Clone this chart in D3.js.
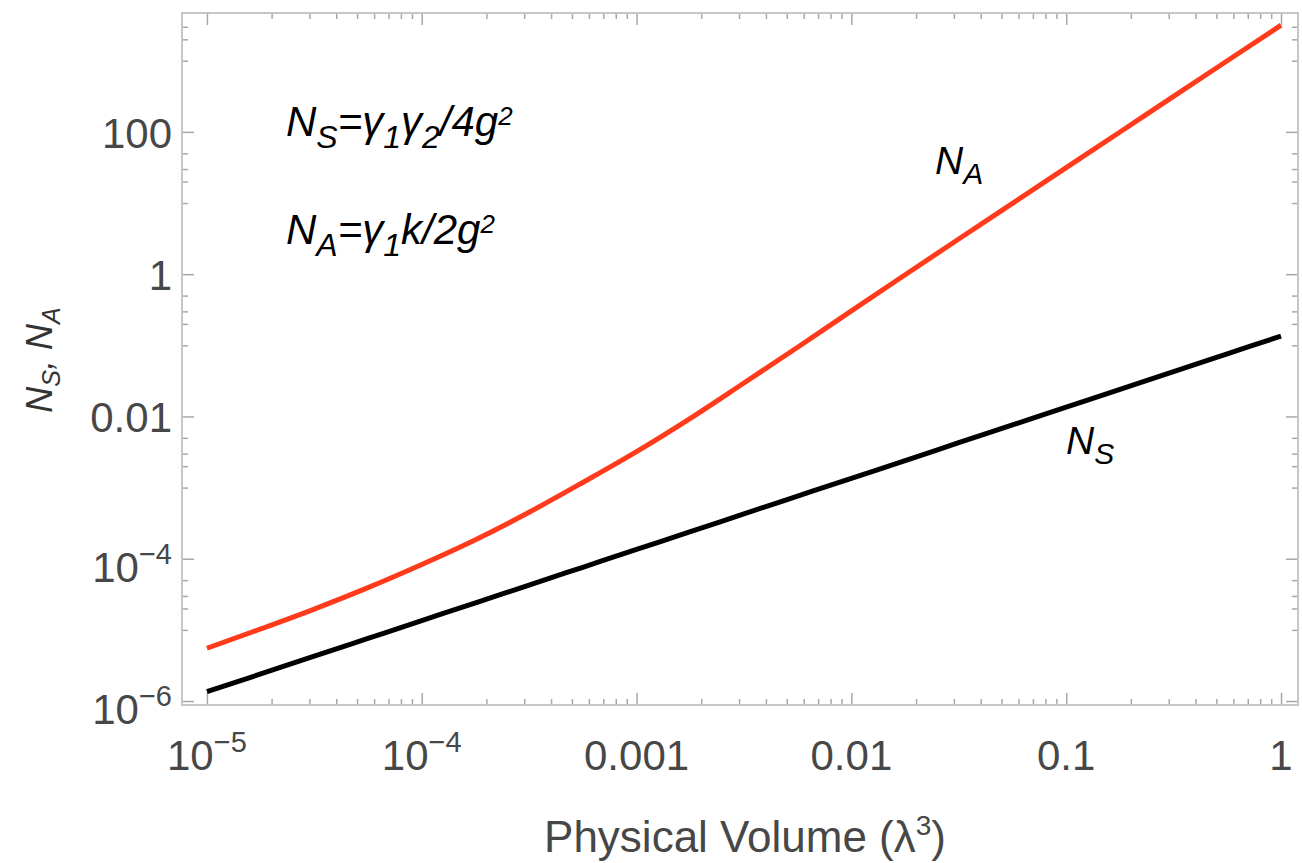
<!DOCTYPE html>
<meta charset="utf-8">
<style>
body { margin: 0; background: #fff; }
text { font-family: "Liberation Sans", Arial, sans-serif; }
.frame { fill: none; stroke: #c6c6c6; stroke-width: 2; }
.tick line { stroke: #a8a8a8; stroke-width: 1.5; }
.domain { display: none; }
.lbl { fill: #474747; font-size: 42px; }
.math { fill: #000; font-style: italic; font-size: 42px; }
</style>
<body>
<script src="https://d3js.org/d3.v7.min.js"></script>
<script>

var w = 1302, h = 863;
var margin = {top: 13, right: 4, bottom: 158, left: 182};

// physical volume (lambda^3), quarter decades
var volume = [1e-5, 1.78e-5, 3.16e-5, 5.62e-5, 1e-4, 1.78e-4, 3.16e-4, 5.62e-4,
              1e-3, 1.78e-3, 3.16e-3, 5.62e-3, 1e-2, 1.78e-2, 3.16e-2, 5.62e-2,
              0.1, 0.178, 0.316, 0.562, 1];
var nS = [1.35e-6, 2.4e-6, 4.27e-6, 7.59e-6, 1.35e-5, 2.4e-5, 4.27e-5, 7.59e-5,
          1.35e-4, 2.4e-4, 4.27e-4, 7.59e-4, 1.35e-3, 2.4e-3, 4.27e-3, 7.59e-3,
          0.0135, 0.024, 0.0427, 0.0759, 0.135];
var nA = [5.52e-6, 1.03e-5, 1.96e-5, 3.92e-5, 8.3e-5, 1.85e-4, 4.5e-4, 1.18e-3,
          3.2e-3, 9.4e-3, 2.95e-2, 0.094, 0.305, 0.98, 3.12, 9.9,
          31.4, 99.5, 316, 999, 3160];

var xMajor = [1e-5, 1e-4, 1e-3, 1e-2, 0.1, 1];
var xLabels = [["10", "\u22125"], ["10", "\u22124"], ["0.001"], ["0.01"], ["0.1"], ["1"]];
var yMajor = [1e-6, 1e-4, 1e-2, 1, 100];
var yLabels = [["10", "\u22126"], ["10", "\u22124"], ["0.01"], ["1"], ["100"]];
var yMinor = [5e-5, 3e-5, 2e-5, 1e-5, 5e-3, 3e-3, 2e-3, 1e-3, 0.5, 0.3, 0.2, 0.1,
              50, 30, 20, 10, 3000, 2000, 1000];

var xMinor = [];
xMajor.slice(0, -1).forEach(function(d) {
    for (var m = 2; m < 10; m++) xMinor.push(d * m);
});

var width = w - margin.left - margin.right,
    height = h - margin.top - margin.bottom;

var x = d3.scaleLog()
    .domain([Math.pow(10, -5.116), Math.pow(10, 0.079)])
    .range([margin.left, margin.left + width]);
var y = d3.scaleLog()
    .domain([Math.pow(10, -6.056), Math.pow(10, 3.671)])
    .range([margin.top + height, margin.top]);

var svg = d3.select("body").append("svg")
    .attr("width", w)
    .attr("height", h);

// ticks on all four sides, pointing inward
function ticks(axisFn, scale, vals, size, tx, ty) {
    svg.append("g")
        .attr("transform", "translate(" + tx + "," + ty + ")")
        .call(axisFn(scale).tickValues(vals).tickSize(-size).tickFormat(""));
}
var bottom = margin.top + height, right = margin.left + width;
ticks(d3.axisBottom, x, xMajor, 12, 0, bottom);
ticks(d3.axisBottom, x, xMinor, 6, 0, bottom);
ticks(d3.axisTop, x, xMajor, 12, 0, margin.top);
ticks(d3.axisTop, x, xMinor, 6, 0, margin.top);
ticks(d3.axisLeft, y, yMajor, 12, margin.left, 0);
ticks(d3.axisLeft, y, yMinor, 6, margin.left, 0);
ticks(d3.axisRight, y, yMajor, 12, right, 0);
ticks(d3.axisRight, y, yMinor, 6, right, 0);

svg.append("rect")
    .attr("class", "frame")
    .attr("x", margin.left)
    .attr("y", margin.top)
    .attr("width", width)
    .attr("height", height);

// text with sub/superscripts: parts = [[text, "sub"|"sup"|undefined], ...]
function rich(text, parts, subDy, supDy, subSize, supSize) {
    var cur = 0;
    parts.forEach(function(p) {
        var target = p[1] === "sub" ? subDy : (p[1] === "sup" ? -supDy : 0);
        var ts = text.append("tspan").text(p[0]).attr("dy", target - cur);
        if (p[1] === "sub") ts.attr("font-size", subSize);
        if (p[1] === "sup") ts.attr("font-size", supSize);
        cur = target;
    });
}

// tick labels
xMajor.forEach(function(d, i) {
    var lab = xLabels[i];
    var t = svg.append("text").attr("class", "lbl")
        .attr("x", x(d)).attr("y", 770)
        .attr("text-anchor", "middle");
    if (lab.length > 1) rich(t, [[lab[0]], [lab[1], "sup"]], 0, 18, 29, 29);
    else t.text(lab[0]);
});
yMajor.forEach(function(d, i) {
    var lab = yLabels[i];
    var t = svg.append("text").attr("class", "lbl")
        .attr("x", 172)
        .attr("text-anchor", "end");
    if (lab.length > 1) {
        t.attr("y", y(d) + 23);
        rich(t, [[lab[0]], [lab[1], "sup"]], 0, 18, 29, 29);
    } else {
        t.attr("y", y(d) + 16).text(lab[0]);
    }
});

// axis titles
var xt = svg.append("text").attr("class", "lbl")
    .attr("x", 745).attr("y", 852)
    .attr("text-anchor", "middle")
    .style("font-size", "44px");
rich(xt, [["Physical Volume (\u03bb"], ["3", "sup"], [")"]], 0, 17, 29, 28);

var yt = svg.append("text").attr("class", "lbl")
    .attr("transform", "translate(52,360) rotate(-90)")
    .attr("text-anchor", "middle")
    .style("font-style", "italic")
    .style("font-size", "36px")
    .style("fill", "#333");
rich(yt, [["N"], ["S", "sub"], [", N"], ["A", "sub"]], 8, 0, 25, 25);

// curves
var line = d3.line()
    .x(function(d) { return x(d[0]); })
    .y(function(d) { return y(d[1]); })
    .curve(d3.curveMonotoneX);

svg.append("path")
    .datum(volume.map(function(v, i) { return [v, nS[i]]; }))
    .attr("fill", "none")
    .attr("stroke", "#000")
    .attr("stroke-width", 5)
    .attr("d", line);

svg.append("path")
    .datum(volume.map(function(v, i) { return [v, nA[i]]; }))
    .attr("fill", "none")
    .attr("stroke", "#ff3b1c")
    .attr("stroke-width", 5)
    .attr("d", line);

// annotations
var f1 = svg.append("text").attr("class", "math").attr("x", 286).attr("y", 136);
rich(f1, [["N"], ["S", "sub"], ["=\u03b3"], ["1", "sub"], ["\u03b3"], ["2", "sub"], ["/4g"], ["2", "sup"]], 12, 11, 32, 26);

var f2 = svg.append("text").attr("class", "math").attr("x", 286).attr("y", 244);
rich(f2, [["N"], ["A", "sub"], ["=\u03b3"], ["1", "sub"], ["k/2g"], ["2", "sup"]], 12, 11, 32, 26);

var la = svg.append("text").attr("class", "math").attr("x", 935).attr("y", 174)
    .style("font-size", "39px");
rich(la, [["N"], ["A", "sub"]], 10, 0, 30, 24);

var ls = svg.append("text").attr("class", "math").attr("x", 1066).attr("y", 454)
    .style("font-size", "39px");
rich(ls, [["N"], ["S", "sub"]], 10, 0, 30, 24);

</script>
</body>
